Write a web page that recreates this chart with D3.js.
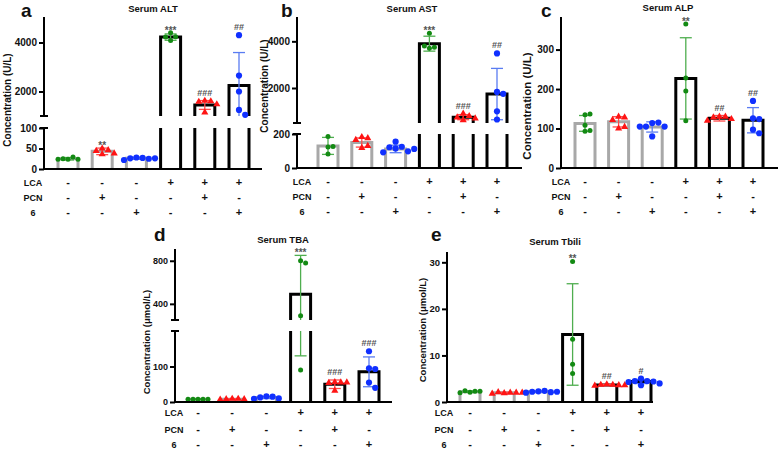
<!DOCTYPE html>
<html><head><meta charset="utf-8">
<script src="https://cdn.jsdelivr.net/npm/d3@7"></script>
<style>
body{margin:0;background:#fff}
svg{display:block}
text{font-family:Arial,"Liberation Sans",sans-serif;font-weight:bold;fill:#111}
</style>
</head><body><svg id="c" width="778" height="449"></svg>
<script>
// ---------- data ----------
const groups = ["G1","G2","G3","G4","G5","G6"];
const rowLabels = ["LCA","PCN","6"];
const lcaSigns = ["-","-","-","+","+","+"];
const pcnSigns = ["-","+","-","-","+","-"];
const sixSigns = ["-","-","+","-","-","+"];

const altMean = [25, 43, 26, 4220, 1450, 2250];
const altSD = [3, 8, 2.5, 130, 180, 1340];
const altPoints = [[24,29,25,24,24],[50,46,44,36,38],[28,27,26,25,22,26],[4400,4230,4220,4080],[1620,1600,1580,1480,1150],[4300,2650,2000,1250,1050]];
const altSig = ["","**","","***","###","##"];
const altTicksLow = [0,50,100];
const altTicksHigh = [2000,4000];

const astMean = [130, 150, 112, 3900, 750, 1740];
const astSD = [50, 27, 22, 320, 110, 1100];
const astPoints = [[124,126,82,185],[182,176,165,118,130],[155,125,122,115,98,92,112],[4350,3700,3750,3800],[900,800,740,700,620],[3480,1830,1750,1000,650]];
const astSig = ["","","","***","###","##"];
const astTicksLow = [0,200];
const astTicksHigh = [2000,4000];

const alpMean = [113, 117, 104, 227, 126, 121];
const alpSD = [20, 13, 13, 103, 7, 32];
const alpPoints = [[135,137,93,95,108],[130,128,122,100,104],[114,115,105,105,105,80],[365,228,195,120],[130,130,128,124,120],[170,126,124,97,88]];
const alpSig = ["","","","**","##","##"];
const alpTicks = [0,100,200,300];

const tbaMean = [8, 8, 12.6, 490, 50, 85];
const tbaSD = [1, 1, 3, 360, 12, 42];
const tbaPoints = [[8,8,8,8,8],[9,9,8,8,7],[16,15,13,10,9],[800,780,290,90],[56,55,54,55,32],[143,95,93,55,40]];
const tbaSig = ["","","","***","###","###"];
const tbaTicksLow = [0,100];
const tbaTicksHigh = [400,800];

const tbiliMean = [2.2, 2.0, 2.2, 14.5, 3.65, 4.4];
const tbiliSD = [0.15, 0.1, 0.15, 10.9, 0.12, 0.45];
const tbiliPoints = [[2.1,2.3,2.4,2.3,2.0],[1.9,2.0,2.1,2.0,1.8,2.0],[2.3,2.4,2.2,2.1,2.0,2.2],[30.2,13.5,8.1,6.1],[3.8,3.7,3.7,3.6,3.5,3.6],[5.0,4.5,4.5,4.4,4.3,3.6,4.0]];
const tbiliSig = ["","","","**","##","#"];
const tbiliTicks = [0,10,20,30];

// ---------- styles ----------
const ptColor = ["#138a13","#ff1414","#1030ff","#138a13","#ff1414","#1030ff"];
const errColor = ["#4fae4f","#ff4a4a","#5a7cf2","#4fae4f","#ff4a4a","#5a7cf2"];
const ptShape = ["circle","triangle","circle","circle","triangle","circle"];
const barColor = ["#a8a8a8","#a8a8a8","#a8a8a8","#000","#000","#000"];

// ---------- layout ----------
const panels = [
 {letter:"a", letterXY:[21,17], title:"Serum ALT", titleXY:[153,12], yLabel:"Concentration (U/L)", yLabelXY:[11,100], yLabelSize:10,
  mean:altMean, sd:altSD, pts:altPoints, sig:altSig, axisX:44, x0:68, x1:239, xEnd:262, base:169,
  segs:[{domain:[0,100], range:[169,128], ticks:altTicksLow},{domain:[1000,5000], range:[116,18], ticks:altTicksHigh}],
  rowsY:[182,197,212], rowLabelX:33, tickSize:10},
 {letter:"b", letterXY:[281,17], title:"Serum AST", titleXY:[412,12], yLabel:"Concentration (U/L)", yLabelXY:[268,86], yLabelSize:10,
  mean:astMean, sd:astSD, pts:astPoints, sig:astSig, axisX:297, x0:328, x1:497, xEnd:522, base:168,
  segs:[{domain:[0,200], range:[168,134], ticks:astTicksLow},{domain:[500,5000], range:[123,18], ticks:astTicksHigh}],
  rowsY:[181,196,211], rowLabelX:302, tickSize:10},
 {letter:"c", letterXY:[541,17], title:"Serum ALP", titleXY:[668,11], yLabel:"Concentration (U/L)", yLabelXY:[531,106], yLabelSize:11.5,
  mean:alpMean, sd:alpSD, pts:alpPoints, sig:alpSig, axisX:561, x0:585, x1:753, xEnd:778, base:168,
  segs:[{domain:[0,380], range:[168,18], ticks:alpTicks}],
  rowsY:[181,196,211], rowLabelX:561, tickSize:10},
 {letter:"d", letterXY:[154,241], title:"Serum TBA", titleXY:[283,243], yLabel:"Concentration (μmol/L)", yLabelXY:[150,342], yLabelSize:9.5,
  mean:tbaMean, sd:tbaSD, pts:tbaPoints, sig:tbaSig, axisX:175, x0:198, x1:369, xEnd:392, base:402,
  segs:[{domain:[0,200], range:[402,331], ticks:tbaTicksLow},{domain:[250,900], range:[320,250], ticks:tbaTicksHigh}],
  rowsY:[412,429,444], rowLabelX:174, tickSize:9},
 {letter:"e", letterXY:[431,241], title:"Serum Tbili", titleXY:[555,245], yLabel:"Concentration (μmol/L)", yLabelXY:[426,330], yLabelSize:9.5,
  mean:tbiliMean, sd:tbiliSD, pts:tbiliPoints, sig:tbiliSig, axisX:447, x0:470, x1:641, xEnd:653, base:402,
  segs:[{domain:[0,32], range:[402,253], ticks:tbiliTicks}],
  rowsY:[412,429,444], rowLabelX:444, tickSize:9.5}
];

const svg = d3.select("#c");
const barW = 20, capW = 12;

panels.forEach(p => {
  const g = svg.append("g");
  const x = d3.scalePoint().domain(groups).range([p.x0, p.x1]);
  const scales = p.segs.map(s => ({s, y: d3.scaleLinear().domain(s.domain).range(s.range)}));
  const segOf = v => scales.find(o => v >= o.s.domain[0] && v <= o.s.domain[1]) ||
      (v < scales[0].s.domain[0] ? scales[0] : scales[scales.length-1]);

  g.append("text").attr("x", p.letterXY[0]).attr("y", p.letterXY[1]).attr("font-size", 19).text(p.letter);
  g.append("text").attr("x", p.titleXY[0]).attr("y", p.titleXY[1]).attr("text-anchor","middle").attr("font-size", 9.5).text(p.title);
  g.append("text").attr("transform", `translate(${p.yLabelXY[0]},${p.yLabelXY[1]}) rotate(-90)`)
    .attr("text-anchor","middle").attr("font-size", p.yLabelSize).text(p.yLabel);

  // bars
  groups.forEach((gr, i) => {
    const cx = x(gr), m = p.mean[i];
    scales.forEach(o => {
      const [d0, d1] = o.s.domain;
      if (m <= d0) return;
      const yb = o.y(d0), yt = o.y(Math.min(m, d1));
      const l = cx - barW/2, r = cx + barW/2;
      const path = m > d1 ? `M${l},${yb}V${yt}M${r},${yt}V${yb}` : `M${l},${yb}V${yt}H${r}V${yb}`;
      g.append("path").attr("d", path).attr("fill","none").attr("stroke", barColor[i]).attr("stroke-width", 3);
    });
  });

  // error bars
  groups.forEach((gr, i) => {
    const cx = x(gr), m = p.mean[i], sd = p.sd[i];
    const lo = m - sd, hi = m + sd;
    scales.forEach(o => {
      const [d0, d1] = o.s.domain;
      const a = Math.max(lo, d0), b = Math.min(hi, d1);
      if (a < b) {
        g.append("line").attr("x1",cx).attr("x2",cx).attr("y1",o.y(a)).attr("y2",o.y(b))
          .attr("stroke", errColor[i]).attr("stroke-width", 1.3);
      }
      [hi, lo].forEach(v => {
        if (v >= d0 && v <= d1) {
          g.append("line").attr("x1",cx-capW/2).attr("x2",cx+capW/2).attr("y1",o.y(v)).attr("y2",o.y(v))
            .attr("stroke", errColor[i]).attr("stroke-width", 1.3);
        }
      });
    });
  });

  // points (simple beeswarm)
  groups.forEach((gr, i) => {
    const cx = x(gr);
    const tri = ptShape[i] === "triangle";
    const r = tri ? 3 : (i === 0 || i === 3 ? 2.5 : 3.1);
    const step = 2 * r;
    const placed = [];
    p.pts[i].forEach(v => {
      const py = segOf(v).y(v);
      let px = cx;
      for (let k = 0; k < 12; k++) {
        const cands = k === 0 ? [0] : [k*step, -k*step];
        let ok = null;
        for (const off of cands) {
          if (placed.every(q => Math.hypot(q[0]-(cx+off), q[1]-py) >= 2*r*0.95)) { ok = off; break; }
        }
        if (ok !== null) { px = cx + ok; break; }
      }
      placed.push([px, py]);
      if (tri) {
        g.append("path").attr("d", d3.symbol(d3.symbolTriangle, 22)()).attr("transform", `translate(${px},${py})`)
          .attr("fill", ptColor[i]);
      } else {
        g.append("circle").attr("cx", px).attr("cy", py).attr("r", r).attr("fill", ptColor[i]);
      }
    });
  });

  // significance labels
  groups.forEach((gr, i) => {
    if (!p.sig[i]) return;
    const top = Math.max(p.mean[i] + p.sd[i], d3.max(p.pts[i]));
    const ty = segOf(top).y(Math.min(top, segOf(top).s.domain[1]));
    const isStar = p.sig[i][0] === "*";
    g.append("text").attr("x", x(gr)).attr("y", ty - (isStar ? -1 : 5)).attr("text-anchor","middle")
      .attr("font-size", isStar ? 10 : 9).attr("font-weight","normal").style("fill","#555").text(p.sig[i]);
  });

  // y axes
  scales.forEach((o, si) => {
    const ax = g.append("g").attr("transform", `translate(${p.axisX},0)`)
      .call(d3.axisLeft(o.y).tickValues(o.s.ticks).tickSize(5).tickPadding(2).tickSizeOuter(0).tickFormat(d3.format("d")));
    ax.select(".domain").remove();
    ax.selectAll(".tick line").attr("stroke","#000").attr("stroke-width",2);
    ax.selectAll(".tick text").attr("font-size", p.tickSize).attr("font-family","Arial, 'Liberation Sans', sans-serif").attr("font-weight","bold").attr("fill","#111");
    g.append("line").attr("x1",p.axisX).attr("x2",p.axisX).attr("y1",o.s.range[0]).attr("y2",o.s.range[1]-1)
      .attr("stroke","#000").attr("stroke-width",2);
    if (scales.length > 1) {
      const capY = si === 0 ? o.s.range[1] : o.s.range[0];
      g.append("line").attr("x1",p.axisX-4).attr("x2",p.axisX+4).attr("y1",capY).attr("y2",capY)
        .attr("stroke","#000").attr("stroke-width",2);
    }
  });

  // x axis
  g.append("line").attr("x1",p.axisX-1).attr("x2",p.xEnd).attr("y1",p.base).attr("y2",p.base)
    .attr("stroke","#000").attr("stroke-width",2);

  // treatment rows
  const signRows = [lcaSigns, pcnSigns, sixSigns];
  rowLabels.forEach((lab, ri) => {
    const yy = p.rowsY[ri] + 3.5;
    g.append("text").attr("x", p.rowLabelX).attr("y", yy).attr("text-anchor","middle").attr("font-size", 9).text(lab);
    groups.forEach((gr, i) => {
      g.append("text").attr("x", x(gr)).attr("y", yy + (signRows[ri][i] === "+" ? 0.5 : 0)).attr("text-anchor","middle")
        .attr("font-size", 11).text(signRows[ri][i]);
    });
  });
});
</script>
</body></html>
